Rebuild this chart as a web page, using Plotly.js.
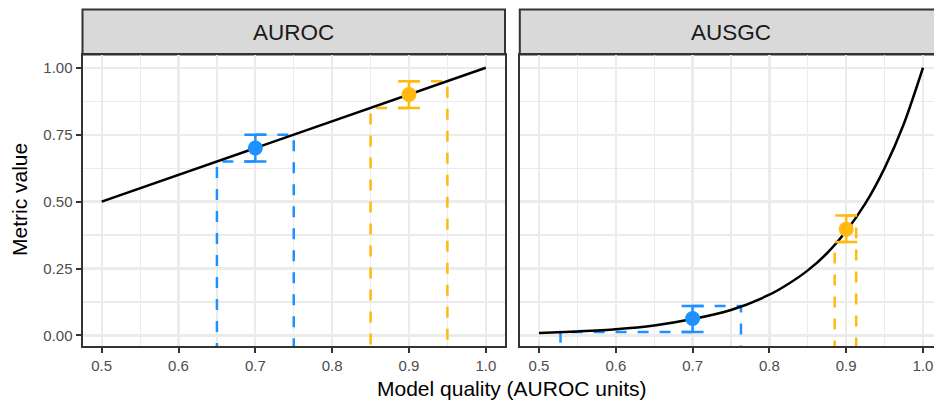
<!DOCTYPE html>
<html>
<head>
<meta charset="utf-8">
<script src="https://cdn.plot.ly/plotly-3.0.1.min.js"></script>
<style>
html, body { margin: 0; padding: 0; overflow: hidden; background: #fff; }
#chart { width: 944px; height: 401px; }
</style>
</head>
<body>
<div id="chart"></div>
<script>
// ---- data ----
const panels = ['AUROC', 'AUSGC'];
const xTicks = [0.5, 0.6, 0.7, 0.8, 0.9, 1.0];
const xTickLabels = ['0.5', '0.6', '0.7', '0.8', '0.9', '1.0'];
const yTicks = [0, 0.25, 0.5, 0.75, 1.0];
const yTickLabels = ['0.00', '0.25', '0.50', '0.75', '1.00'];

// AUROC panel curve (identity)
const aurocCurveX = [0.5, 1.0];
const aurocCurveY = [0.5, 1.0];
// AUSGC panel curve
const ausgcCurveX = [0.50, 0.55, 0.60, 0.65, 0.70, 0.75, 0.80, 0.825, 0.85, 0.875, 0.90, 0.925, 0.95, 0.975, 1.0];
const ausgcCurveY = [0.009, 0.015, 0.023, 0.037, 0.061, 0.095, 0.152, 0.193, 0.243, 0.307, 0.390, 0.493, 0.625, 0.790, 1.0];

// Two models (blue, orange)
const modelColors = ['#1E90FF', '#FFB90F'];
const modelQuality = [0.7, 0.9];
// AUROC metric estimates
const aurocValue = [0.70, 0.90];
const aurocLow = [0.65, 0.85];
const aurocHigh = [0.75, 0.95];
const aurocLowX = [0.65, 0.85];
const aurocHighX = [0.75, 0.95];
// AUSGC metric estimates
const ausgcValue = [0.063, 0.397];
const ausgcLow = [0.013, 0.349];
const ausgcHigh = [0.110, 0.448];
const ausgcLowX = [0.528, 0.885];
const ausgcHighX = [0.763, 0.913];

// ---- layout geometry ----
const W = 944, H = 401;
const px = v => v / W;
const py = v => (H - v) / H;
const yBottom = -0.0395;
const xRange = [0.475, 1.025];
const yRange = [yBottom, 1.0495];
const dom1 = [px(82.5), px(505)];
const dom2 = [px(519.8), px(942.2)];
const ydom = [py(346), py(54.5)];

const tickFont = { family: 'Liberation Sans, Arial, sans-serif', size: 15, color: '#4D4D4D' };
const grey20 = '#333333';
const gridC = '#EBEBEB';

function xaxisDef(domain) {
  return {
    domain: domain, range: xRange,
    tickvals: xTicks, ticktext: xTickLabels, ticks: 'outside', ticklen: 5, tickwidth: 2, tickcolor: grey20,
    tickfont: tickFont, showgrid: true, gridcolor: gridC, gridwidth: 2.2, zeroline: false,
    minor: { tickvals: [0.55, 0.65, 0.75, 0.85, 0.95], showgrid: true, gridcolor: gridC, gridwidth: 1.2, ticks: '' },
    showline: true, mirror: true, linecolor: grey20, linewidth: 2, fixedrange: true
  };
}
function yaxisDef(showLabels) {
  return {
    domain: ydom, range: yRange,
    tickvals: yTicks, ticktext: yTickLabels, ticks: showLabels ? 'outside' : '', ticklen: 5, tickwidth: 2, tickcolor: grey20,
    showticklabels: showLabels, tickfont: tickFont,
    showgrid: true, gridcolor: gridC, gridwidth: 2.2, zeroline: false,
    minor: { tickvals: [0.125, 0.375, 0.625, 0.875], showgrid: true, gridcolor: gridC, gridwidth: 1.2, ticks: '' },
    showline: true, mirror: true, linecolor: grey20, linewidth: 2, fixedrange: true
  };
}

const traces = [];
function addPanel(xa, ya, curveX, curveY, val, lo, hi, loX, hiX, spline) {
  for (let i = 0; i < modelQuality.length; i++) {
    const dashLine = { color: modelColors[i], width: 2.5, dash: '11px,11px' };
    traces.push({ x: [modelQuality[i], loX[i], loX[i]], y: [lo[i], lo[i], yBottom - 0.05], xaxis: xa, yaxis: ya,
      mode: 'lines', line: dashLine, hoverinfo: 'skip', showlegend: false });
    traces.push({ x: [modelQuality[i], hiX[i], hiX[i]], y: [hi[i], hi[i], yBottom - 0.05], xaxis: xa, yaxis: ya,
      mode: 'lines', line: dashLine, hoverinfo: 'skip', showlegend: false });
  }
  traces.push({ x: curveX, y: curveY, xaxis: xa, yaxis: ya, mode: 'lines',
    line: { color: '#000000', width: 2.5, shape: spline ? 'spline' : 'linear', smoothing: 0.8 }, showlegend: false });
  for (let i = 0; i < modelQuality.length; i++) {
    traces.push({ x: [modelQuality[i]], y: [val[i]], xaxis: xa, yaxis: ya, mode: 'markers',
      marker: { color: modelColors[i], size: 15 },
      error_y: { type: 'data', symmetric: false, array: [hi[i] - val[i]], arrayminus: [val[i] - lo[i]],
        color: modelColors[i], thickness: 2.5, width: 11 },
      showlegend: false });
  }
}
addPanel('x', 'y', aurocCurveX, aurocCurveY, aurocValue, aurocLow, aurocHigh, aurocLowX, aurocHighX, false);
addPanel('x2', 'y2', ausgcCurveX, ausgcCurveY, ausgcValue, ausgcLow, ausgcHigh, ausgcLowX, ausgcHighX, true);

const x1 = xaxisDef(dom1); x1.anchor = 'y';
const x2 = xaxisDef(dom2); x2.anchor = 'y2';
const y1 = yaxisDef(true); y1.anchor = 'x';
const y2 = yaxisDef(false); y2.anchor = 'x2';

const doms = [dom1, dom2];
const shapes = doms.map(d => ({
  type: 'rect', xref: 'paper', yref: 'paper', x0: d[0], x1: d[1], y0: py(54.5), y1: py(9.5),
  fillcolor: '#D9D9D9', line: { color: grey20, width: 2 }, layer: 'below'
}));
const annotations = panels.map((p, i) => ({
  text: p, xref: 'paper', yref: 'paper', x: (doms[i][0] + doms[i][1]) / 2, y: py(32.5), xanchor: 'center', yanchor: 'middle',
  showarrow: false, font: { family: 'Liberation Sans, Arial, sans-serif', size: 22.5, color: '#1A1A1A' }
}));
annotations.push({ text: 'Model quality (AUROC units)', xref: 'paper', yref: 'paper', x: px(512), y: py(388.5),
  xanchor: 'center', yanchor: 'middle', showarrow: false,
  font: { family: 'Liberation Sans, Arial, sans-serif', size: 21, color: '#000000' } });
annotations.push({ text: 'Metric value', xref: 'paper', yref: 'paper', x: px(19), y: py(200), textangle: -90,
  xanchor: 'center', yanchor: 'middle', showarrow: false,
  font: { family: 'Liberation Sans, Arial, sans-serif', size: 21, color: '#000000' } });

const layout = {
  width: W, height: H, margin: { l: 0, r: 0, t: 0, b: 0 },
  paper_bgcolor: '#ffffff', plot_bgcolor: '#ffffff',
  xaxis: x1, xaxis2: x2, yaxis: y1, yaxis2: y2,
  shapes: shapes, annotations: annotations, showlegend: false
};
Plotly.newPlot('chart', traces, layout, { displayModeBar: false, staticPlot: true });
</script>
</body>
</html>
